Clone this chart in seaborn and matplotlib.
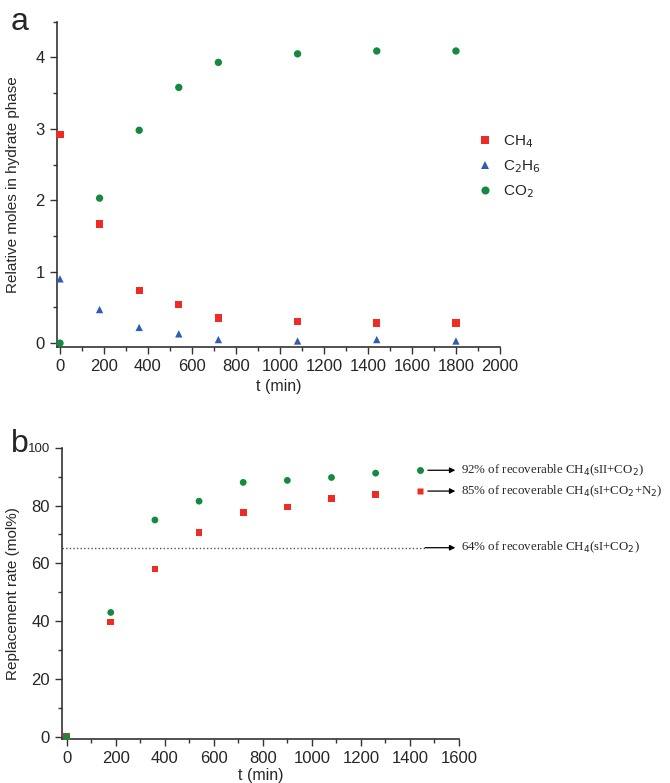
import matplotlib
matplotlib.use("Agg")
import matplotlib.pyplot as plt
import seaborn as sns
import pandas as pd
from matplotlib.ticker import MultipleLocator

sns.set_style("ticks")
plt.rcParams['font.family'] = ['Liberation Sans', 'DejaVu Sans']

# ---------------- data: panel a ----------------
t_a = [0, 180, 360, 540, 720, 1080, 1440, 1800]
ch4_a = [2.92, 1.67, 0.74, 0.54, 0.35, 0.30, 0.28, 0.28]
c2h6_a = [0.90, 0.47, 0.22, 0.13, 0.05, 0.03, 0.05, 0.03]
co2_a = [0.00, 2.03, 2.98, 3.58, 3.93, 4.05, 4.09, 4.09]
species_a = ["CH$_4$", "C$_2$H$_6$", "CO$_2$"]

# ---------------- data: panel b ----------------
t_b = [0, 180, 360, 540, 720, 900, 1080, 1260]
green_b = [0.0, 43.0, 75.0, 81.5, 88.0, 88.7, 89.7, 91.2]
red_b = [0.0, 39.7, 58.0, 70.7, 77.5, 79.5, 82.3, 83.9]
series_b = ["sII+CO2", "sI+CO2+N2"]
ref_level = 65.4
notes_b = ["92% of recoverable CH$_4$(sII+CO$_2$)",
           "85% of recoverable CH$_4$(sI+CO$_2$+N$_2$)",
           "64% of recoverable CH$_4$(sI+CO$_2$)"]
note_y = [92.2, 85.0, ref_level]

RED = "#ee2b24"
BLUE = "#2f5db4"
GREEN = "#148a3f"

df_a = pd.DataFrame({
    "t": t_a * 3,
    "val": ch4_a + c2h6_a + co2_a,
    "species": [species_a[0]] * len(t_a) + [species_a[1]] * len(t_a) + [species_a[2]] * len(t_a),
})
# red series first so green sits on top
df_b = pd.DataFrame({
    "t": t_b * 2,
    "val": red_b + green_b,
    "series": [series_b[1]] * len(t_b) + [series_b[0]] * len(t_b),
})

fig = plt.figure(figsize=(6.7, 7.83), dpi=100)
ax1 = fig.add_axes([0.0846, 0.5572, 0.6616, 0.4151])
ax2 = fig.add_axes([0.0921, 0.0558, 0.593, 0.3724])

pal_a = {species_a[0]: RED, species_a[1]: BLUE, species_a[2]: GREEN}
mk_a = {species_a[0]: "s", species_a[1]: "^", species_a[2]: "o"}
sns.scatterplot(data=df_a, x="t", y="val", hue="species", style="species",
                palette=pal_a, markers=mk_a, s=28, linewidth=0, ax=ax1,
                clip_on=False, zorder=3)
ax1.set_xlim(-15, 2000)
ax1.set_ylim(-0.05, 4.5)
ax1.xaxis.set_major_locator(MultipleLocator(200))
ax1.xaxis.set_minor_locator(MultipleLocator(100))
ax1.yaxis.set_major_locator(MultipleLocator(1))
ax1.yaxis.set_minor_locator(MultipleLocator(0.5))
ax1.set_xlabel("t (min)", fontsize=11.5, labelpad=4)
ax1.set_ylabel("Relative moles in hydrate phase", fontsize=11)
ax1.yaxis.set_label_coords(-0.083, 0.5)
leg = ax1.legend(loc="upper left", bbox_to_anchor=(0.935, 0.675), frameon=False,
                 fontsize=11, handletextpad=0.7, labelspacing=0.55,
                 borderaxespad=0, handlelength=1.0, markerscale=1.1)
fig.text(0.016, 0.962, "a", fontsize=23, va="baseline", ha="left")

pal_b = {series_b[0]: GREEN, series_b[1]: RED}
mk_b = {series_b[0]: "o", series_b[1]: "s"}
sns.scatterplot(data=df_b, x="t", y="val", hue="series", style="series",
                palette=pal_b, markers=mk_b, s=24, linewidth=0, ax=ax2,
                clip_on=False, zorder=3, legend=False)
ax2.set_xlim(-20, 1600)
ax2.set_ylim(-0.9, 100)
ax2.xaxis.set_major_locator(MultipleLocator(200))
ax2.xaxis.set_minor_locator(MultipleLocator(100))
ax2.yaxis.set_major_locator(MultipleLocator(20))
ax2.yaxis.set_minor_locator(MultipleLocator(10))
ax2.set_xlabel("t (min)", fontsize=11.5, labelpad=1)
ax2.set_ylabel("Replacement rate (mol%)", fontsize=11)
ax2.yaxis.set_label_coords(-0.105, 0.5)
fig.text(0.016, 0.4227, "b", fontsize=23, va="baseline", ha="left")

ax2.hlines(ref_level, -20, 1462, colors="#555555", linestyles=(0, (1, 1.6)), linewidth=1.0)
# annotation markers and arrows
ax2.plot([1442], [note_y[0]], "o", color=GREEN, ms=5.0, mec="none", clip_on=False)
ax2.plot([1442], [note_y[1]], "s", color=RED, ms=4.6, mec="none", clip_on=False)
starts = [1473, 1473, 1462]
for i in range(3):
    ax2.annotate("", xy=(1585, note_y[i]), xytext=(starts[i], note_y[i]),
                 arrowprops=dict(arrowstyle="-|>", color="black", lw=0.9,
                                 shrinkA=0, shrinkB=0, mutation_scale=8),
                 annotation_clip=False)
    ax2.text(1609, note_y[i], notes_b[i], fontsize=9.3, va="center", ha="left",
             family=["Liberation Serif", "DejaVu Serif"], clip_on=False)

for ax in (ax1, ax2):
    sns.despine(ax=ax)
    ax.tick_params(axis="both", which="major", labelsize=12, length=5, width=1.0,
                   direction="out", color="#333333")
    ax.tick_params(axis="both", which="minor", length=3, width=1.0, color="#333333")
    for sp in ("left", "bottom"):
        ax.spines[sp].set_linewidth(1.2)
        ax.spines[sp].set_color("#333333")

fig.canvas.draw()
for lab in ax2.get_yticklabels():
    if lab.get_text() == "100":
        lab.set_fontsize(9.5)

fig.savefig("out.png", dpi=100)
